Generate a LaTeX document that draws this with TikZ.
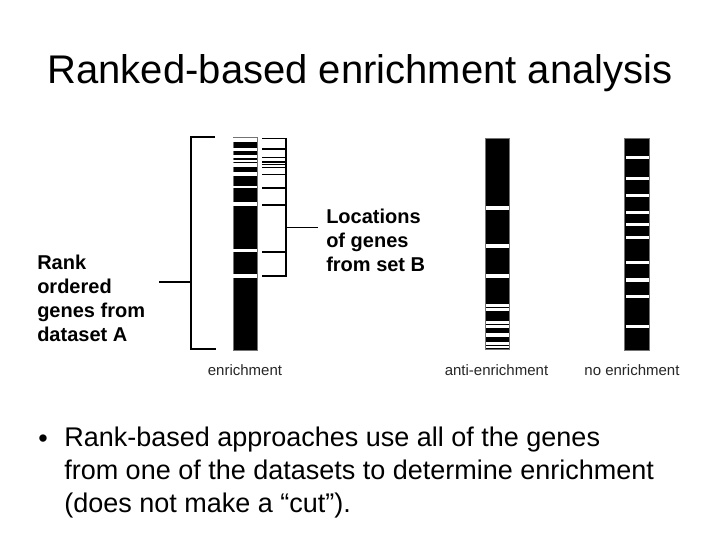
\documentclass[tikz,border=0pt]{standalone}
\usepackage{fontspec}
\setmainfont{Liberation Sans}
\usetikzlibrary{positioning}

\begin{document}
\begin{tikzpicture}[x=0.75pt,y=-0.75pt,
bar/.style={fill=black,draw=black!55,line width=0.4pt},
stripe/.style={fill=white,draw=none},
brk/.style={line width=1.2pt},
lbl/.style={font=\fontsize{15}{18}\selectfont\bfseries,align=left,inner sep=0pt},
barcap/.style={font=\fontsize{11.25}{13}\selectfont,text=black!85,inner sep=0pt}
]
\useasboundingbox[fill=white] (0,0) rectangle (720,540);

% title
\node[anchor=base,font=\fontsize{30}{36}\selectfont] (title) at (360,83) {Ranked-based enrichment analysis};

% enrichment bar
\draw[bar] (233,137) rectangle (257,350);
\foreach \y/\h in {140.3/4,149.3/3.3,156.7/3.3,161/2.6,165/3.4,174/3.4,187/2.6,204/3.4,250.7/3.3,276/3.4}
  \fill[stripe] (233.4,\y-\h/2) rectangle (256.6,\y+\h/2);
% anti-enrichment bar
\draw[bar] (485,138) rectangle (509.5,349);
\foreach \y/\h in {208/4,246/4,275.8/3.7,305.3/2.7,309.2/3,322.5/3,326.7/3.3,335.2/3.7,343.7/2.7,347/2.4}
  \fill[stripe] (486,\y-\h/2) rectangle (508.5,\y+\h/2);
% no enrichment bar
\draw[bar] (624.5,138) rectangle (649.5,350);
\foreach \y/\h in {157.5/3,178.3/3.3,195.2/3,212.3/2.7,224.5/3,237.5/3,262.7/3.3,280/3.4,296.8/3,326.7/3.3}
  \fill[stripe] (625.5,\y-\h/2) rectangle (648.5,\y+\h/2);

% bracket for dataset A
\draw[brk] (215,137) -- (191,137) -- (191,349) -- (216,349);
\coordinate (seta) at (191,282);
\node[lbl,anchor=north west] (rank) at (37,254.5) {Rank\\ordered\\genes from\\dataset A};
\draw[brk] (seta) -- ([xshift=10pt]rank.east |- seta);

% ticks for set B
\foreach \y in {138.5,149,157.5,162,164.5,167.5,174.3,187.7,205,251.7,276}
  \draw[brk] (262,\y) -- (286,\y);
\draw[brk] (286,137.9) -- (286,276.6);
\coordinate (setb) at (286,227.5);
\node[lbl,anchor=north west] (loc) at (326,209) {Locations\\of genes\\from set B};
\draw[brk] (setb) -- ([xshift=-6pt]loc.west |- setb);

% captions
\node[barcap] (capenr) at (245,370) {enrichment};
\node[barcap] (capanti) at (496.5,370) {anti-enrichment};
\node[barcap] (capnone) at (632,370) {no enrichment};

% bullet
\node[anchor=base,font=\fontsize{20.25}{24.75}\selectfont,inner sep=0pt] (dot) at (43,447) {•};
\node[anchor=north west,align=left,inner sep=0pt,font=\fontsize{20.25}{24.75}\selectfont] (txt) at (64,427)
  {Rank-based approaches use all of the genes\\from one of the datasets to determine enrichment\\(does not make a “cut”).};
\end{tikzpicture}
\end{document}
